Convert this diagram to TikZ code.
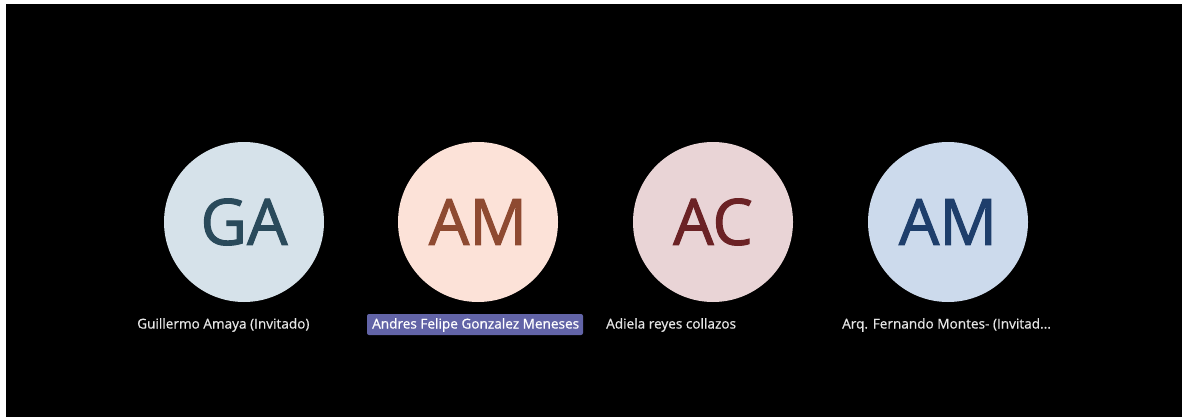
\documentclass[tikz,border=0pt]{standalone}
\usepackage{fontspec}
\setmainfont{Open Sans}
\newfontfamily\initialsfont{Open Sans}[FakeBold=1.6]
\newfontfamily\tagfont{Open Sans}[FakeBold=0.7]
\definecolor{bgga}{HTML}{D6E2EA}
\definecolor{fgga}{HTML}{2A4A5B}
\definecolor{bgam}{HTML}{FCE2D8}
\definecolor{fgam}{HTML}{8E4A31}
\definecolor{bgac}{HTML}{E9D4D6}
\definecolor{fgac}{HTML}{6B2225}
\definecolor{bgaf}{HTML}{CCDAEC}
\definecolor{fgaf}{HTML}{1E3E6B}
\definecolor{tagbg}{HTML}{6264A7}
\definecolor{namefg}{HTML}{E6E6E6}

\begin{document}
\begin{tikzpicture}[x=1pt, y=-1pt,
    avatar/.style = {circle, minimum size=160pt, inner sep=0pt, font=\initialsfont\fontsize{64}{64}\selectfont},
    nametag/.style = {anchor=west, inner sep=0pt, text=namefg, font=\tagfont\fontsize{13.6}{13.6}\selectfont}]
                    \useasboundingbox (0,0) rectangle (1182,417);
                    \fill[white] (0,0) rectangle (1182,417);
                    \fill[black] (6,4) rectangle (1182,417);

                    \node[avatar, fill=bgga, text=fgga] (ga) at (244,222) {GA};
                    \node[avatar, fill=bgam, text=fgam] (am) at (478,222) {AM};
                    \node[avatar, fill=bgac, text=fgac] (ac) at (713,222) {AC};
                    \node[avatar, fill=bgaf, text=fgaf] (af) at (948,222) {AM};

                    \fill[tagbg, rounded corners=2pt] (367,314) rectangle (583,335);
                    \node[nametag] (nga) at (137,325) {Guillermo Amaya (Invitado)};
                    \node[nametag, text=white] (nam) at (372,325) {Andres Felipe Gonzalez Meneses};
                    \node[nametag] (nac) at (606,325) {Adiela reyes collazos};
                    \node[nametag] (naf) at (842,325) {Arq. Fernando Montes- (Invitad...};

                \end{tikzpicture}
\end{document}
